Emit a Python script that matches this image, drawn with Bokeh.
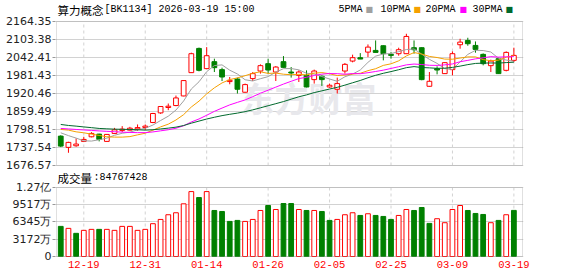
from bokeh.plotting import figure
from bokeh.models import FixedTicker, Label, ColumnDataSource, Range1d, BoxAnnotation
from bokeh.embed import file_html
from bokeh.resources import INLINE

# ---------------- data ----------------
dates = ["12-16", "12-17", "12-18", "12-19", "12-22", "12-23", "12-24", "12-25", "12-26", "12-29",
         "12-30", "12-31", "01-05", "01-06", "01-07", "01-08", "01-09", "01-12", "01-13", "01-14",
         "01-15", "01-16", "01-19", "01-20", "01-21", "01-22", "01-23", "01-26", "01-27", "01-28",
         "01-29", "01-30", "02-02", "02-03", "02-04", "02-05", "02-06", "02-09", "02-10", "02-11",
         "02-12", "02-13", "02-24", "02-25", "02-26", "02-27", "03-02", "03-03", "03-04", "03-05",
         "03-06", "03-09", "03-10", "03-11", "03-12", "03-13", "03-16", "03-17", "03-18", "03-19"]

opens = [1776.1, 1738.0, 1743.4, 1758.2, 1773.8, 1782.9, 1758.2, 1785.2, 1795.4, 1796.3,
         1800.5, 1805.5, 1822.3, 1854.8, 1873.0, 1879.7, 1912.2, 1991.1, 2073.2, 2004.7,
         2028.3, 2001.3, 1960.8, 1969.6, 1924.7, 1970.9, 1996.6, 2021.5, 1993.2, 2028.3,
         1993.2, 1982.0, 1982.0, 1967.5, 1978.7, 1942.6, 1934.8, 1996.6, 2030.3, 2041.8,
         2060.7, 2066.4, 2082.3, 2053.0, 2055.3, 2055.3, 2075.6, 2075.6, 1944.9, 2004.7,
         1987.8, 2001.3, 2085.7, 2100.2, 2083.3, 2053.0, 2014.8, 2038.4, 1998.9, 2032.7]
highs = [1779.0, 1757.0, 1768.4, 1773.8, 1789.6, 1784.0, 1783.0, 1804.0, 1809.9, 1807.5,
         1815.6, 1815.6, 1854.8, 1877.5, 1886.5, 1913.5, 1965.5, 2058.7, 2076.0, 2077.6,
         2038.4, 2008.0, 1976.3, 1974.3, 1954.0, 1993.2, 2019.2, 2038.4, 2013.4, 2047.2,
         2010.1, 1998.9, 1998.9, 2001.3, 1982.0, 1954.0, 1974.3, 2023.8, 2052.0, 2057.3,
         2086.7, 2100.2, 2083.5, 2060.7, 2075.6, 2122.8, 2100.2, 2077.0, 1993.2, 2012.4,
         2026.0, 2063.1, 2105.9, 2109.3, 2096.8, 2056.3, 2035.0, 2041.8, 2063.1, 2075.6]
lows = [1739.0, 1719.7, 1740.0, 1755.9, 1772.0, 1758.2, 1757.5, 1784.0, 1789.6, 1795.0,
        1794.0, 1796.3, 1820.0, 1851.4, 1863.9, 1877.4, 1911.0, 1990.0, 1995.5, 2003.0,
        1993.2, 1962.8, 1951.7, 1920.3, 1923.5, 1962.8, 1987.8, 1987.8, 1962.8, 2008.0,
        1974.3, 1959.4, 1941.0, 1954.0, 1946.0, 1940.0, 1920.3, 1987.8, 2026.0, 2037.1,
        2043.8, 2059.7, 2032.7, 2038.4, 2048.5, 2054.0, 2055.3, 1965.2, 1943.5, 1985.4,
        1986.5, 1982.0, 2072.2, 2082.3, 2058.7, 2015.8, 1993.2, 1987.8, 1995.5, 2027.0]
closes = [1742.3, 1754.8, 1749.1, 1764.9, 1785.2, 1765.0, 1781.8, 1797.4, 1799.8, 1803.0,
          1805.0, 1809.9, 1852.7, 1876.4, 1877.4, 1905.4, 1964.2, 2055.3, 1998.9, 2048.5,
          2008.0, 1976.3, 1965.2, 1934.8, 1950.6, 1987.8, 2014.8, 2000.0, 2010.1, 2009.0,
          1989.8, 1993.2, 1942.5, 1996.6, 1967.5, 1948.3, 1954.0, 2019.2, 2041.8, 2037.1,
          2077.6, 2059.7, 2055.3, 2049.6, 2068.8, 2113.7, 2068.8, 1967.5, 1961.8, 2000.0,
          2024.9, 2055.3, 2094.5, 2089.1, 2069.8, 2021.5, 2030.3, 1987.8, 2059.7, 2049.6]
prev_close = 1776.1

# volume, unit: 万 (10,000 shares)
volumes = [5539, 5173, 4259, 4808, 4990, 4990, 4990, 4808, 5539, 5539,
           4808, 4990, 6032, 6818, 7678, 8043, 9688, 11937, 10840, 11937,
           8464, 8281, 6453, 6636, 6453, 6818, 8464, 9378, 8646, 9743,
           9743, 8646, 8464, 8464, 8281, 6636, 6818, 7678, 8043, 7550,
           7860, 7550, 7367, 6818, 7550, 8646, 8464, 9012, 6087, 6946,
           6215, 8646, 9378, 8464, 7915, 7732, 6215, 6636, 7678, 8476.7428]

ma5 = [1787.3, 1777.8, 1769.4, 1760.2, 1759.3, 1763.8, 1769.2, 1778.9, 1785.8, 1789.6,
       1797.0, 1802.6, 1813.6, 1829.0, 1843.6, 1864.4, 1895.2, 1935.7, 1960.2, 1994.5,
       2015.0, 2017.4, 1999.4, 1986.6, 1967.0, 1962.9, 1970.6, 1977.6, 1992.7, 2004.6,
       2005.0, 2000.6, 1989.1, 1986.4, 1977.9, 1969.6, 1961.8, 1977.1, 1986.2, 2000.1,
       2025.9, 2047.1, 2054.3, 2055.9, 2062.2, 2069.4, 2071.2, 2053.7, 2036.1, 2022.4,
       2004.6, 2001.9, 2027.3, 2052.8, 2066.7, 2066.0, 2061.0, 2039.7, 2033.8, 2029.8]
ma10 = [1798.7, 1796.4, 1790.6, 1787.3, 1782.9, 1778.5, 1773.8, 1772.7, 1772.7, 1774.4,
        1780.4, 1785.9, 1796.3, 1807.4, 1816.6, 1830.7, 1848.9, 1874.7, 1894.6, 1919.1,
        1939.7, 1956.3, 1967.6, 1973.4, 1980.7, 1989.0, 1994.0, 1988.5, 1989.6, 1985.8,
        1984.0, 1985.6, 1983.4, 1989.6, 1991.2, 1987.3, 1981.2, 1983.1, 1986.3, 1989.0,
        1997.8, 2004.4, 2015.7, 2021.0, 2031.1, 2047.7, 2059.2, 2054.0, 2046.0, 2042.3,
        2037.0, 2036.6, 2040.5, 2044.4, 2044.5, 2035.3, 2031.5, 2033.5, 2043.3, 2048.3]
ma20 = [1802.1, 1800.4, 1798.7, 1797.0, 1795.4, 1793.7, 1792.3, 1791.0, 1789.6, 1788.6,
        1787.9, 1787.9, 1790.3, 1794.0, 1797.7, 1802.8, 1811.2, 1824.0, 1834.2, 1846.7,
        1860.0, 1871.1, 1881.9, 1890.4, 1898.7, 1909.8, 1921.5, 1931.6, 1942.1, 1952.4,
        1961.8, 1971.0, 1975.5, 1981.5, 1986.0, 1988.1, 1987.6, 1985.8, 1988.0, 1987.4,
        1990.9, 1995.0, 1999.5, 2005.3, 2011.2, 2017.5, 2020.2, 2018.6, 2016.1, 2015.6,
        2017.4, 2020.5, 2028.1, 2032.7, 2037.8, 2041.5, 2045.3, 2043.7, 2044.6, 2045.3]
ma30 = [1815.6, 1812.2, 1809.9, 1807.2, 1804.8, 1802.1, 1800.8, 1799.7, 1799.1, 1798.7,
        1797.7, 1796.4, 1797.7, 1800.4, 1803.1, 1806.5, 1812.0, 1820.0, 1827.0, 1834.0,
        1840.0, 1845.5, 1850.0, 1854.0, 1859.0, 1865.0, 1872.0, 1879.0, 1886.0, 1893.1,
        1901.3, 1909.3, 1915.7, 1923.5, 1929.5, 1935.6, 1941.4, 1948.8, 1956.8, 1964.6,
        1973.8, 1982.1, 1988.9, 1994.7, 2001.0, 2008.0, 2011.5, 2008.5, 2007.3, 2005.7,
        2006.2, 2008.9, 2013.2, 2018.3, 2022.3, 2023.4, 2023.9, 2023.5, 2025.2, 2026.5]

price_ticks = [1676.57, 1737.54, 1798.51, 1859.49, 1920.46, 1981.43, 2042.41, 2103.38, 2164.35]
vol_ticks = [0, 3172, 6345, 9517, 12689]
vol_tick_labels = ["0", "3172万", "6345万", "9517万", "1.27亿"]
date_labels = ["12-19", "12-31", "01-14", "01-26", "02-05", "02-25", "03-09", "03-19"]

title_name = "算力概念"
title_rest = "[BK1134] 2026-03-19 15:00"
ma_names = ["5PMA", "10PMA", "20PMA", "30PMA"]
vol_title = "成交量"
watermark = "东方财富"

# ---------------- layout / styles ----------------
RED = "#ff0000"
GREEN = "#008000"
MA_COLORS = ["#a0a0a0", "#f5a000", "#ff00ff", "#00692d"]
GRID = "#d2d2d2"
BORDER = "#999999"
W, H = 578, 276
FRAME_L, FRAME_R = 55, 523          # frame in page pixels
FRAME_T, FRAME_B = 0, 257
BOX_L, BOX_R = 56, 522               # panel boxes
PRICE_T, PRICE_B = 21, 165
VOL_T, VOL_B = 187, 256
SLOT0, SLOT = 60.26, 7.68            # x pixel of first candle, spacing

# x range (index units) from pixel layout
x_lo = (FRAME_L - SLOT0) / SLOT
x_hi = (FRAME_R - SLOT0) / SLOT
box_x0 = (BOX_L - SLOT0) / SLOT
box_x1 = (BOX_R - SLOT0) / SLOT

# price range spanning the whole frame
kp = (price_ticks[-1] - price_ticks[0]) / (PRICE_B - PRICE_T)
py1 = price_ticks[-1] + (PRICE_T - FRAME_T) * kp
py0 = price_ticks[0] - (FRAME_B - PRICE_B) * kp
# volume range spanning the whole frame
kv = vol_ticks[-1] / (VOL_B - VOL_T)
vy1 = vol_ticks[-1] + (VOL_T - FRAME_T) * kv
vy0 = 0 - (FRAME_B - VOL_B) * kv


def vol_to_price(v):
    return py0 + (v - vy0) / (vy1 - vy0) * (py1 - py0)


x = list(range(len(dates)))
date_idx = [dates.index(d) for d in date_labels]

up = [c >= o for o, c in zip(opens, closes)]
src = ColumnDataSource(dict(
    x=x, high=highs, low=lows,
    top=[max(o, c) for o, c in zip(opens, closes)],
    bottom=[min(o, c) for o, c in zip(opens, closes)],
    line=[RED if u else GREEN for u in up],
    fill=["white" if u else GREEN for u in up],
))

prevs = [prev_close] + closes[:-1]
vup = [c >= p for c, p in zip(closes, prevs)]
vsrc = ColumnDataSource(dict(
    x=x, vol=volumes,
    line=[RED if u else GREEN for u in vup],
    fill=["white" if u else GREEN for u in vup],
))

p = figure(width=W, height=H, x_range=Range1d(x_lo, x_hi), y_range=Range1d(py0, py1),
           output_backend="svg", toolbar_location=None, title=None,
           min_border_left=FRAME_L, min_border_right=W - FRAME_R,
           min_border_top=FRAME_T, min_border_bottom=H - FRAME_B)
p.extra_y_ranges = {"vol": Range1d(vy0, vy1)}
p.background_fill_color = "white"
p.border_fill_color = "white"
p.outline_line_color = None

# left axis: price ticks + volume ticks (mapped to the price scale)
vol_pos = [vol_to_price(v) for v in vol_ticks]
all_ticks = price_ticks + vol_pos
overrides = {t: "%.2f" % t for t in price_ticks}
overrides.update({vp: s for vp, s in zip(vol_pos, vol_tick_labels)})
p.yaxis.ticker = FixedTicker(ticks=all_ticks)
p.yaxis.major_label_overrides = overrides
p.yaxis.axis_line_color = None
p.yaxis.major_tick_line_color = BORDER
p.yaxis.major_tick_out = 3
p.yaxis.major_tick_in = 0
p.yaxis.minor_tick_line_color = None
p.yaxis.major_label_standoff = 1
p.yaxis.major_label_text_font = "DejaVu Sans"
p.yaxis.major_label_text_font_size = "11px"
p.yaxis.major_label_text_color = "#222222"
p.ygrid.ticker = FixedTicker(ticks=all_ticks)
p.ygrid.grid_line_color = GRID

# bottom axis: dates
p.xaxis.ticker = FixedTicker(ticks=date_idx)
p.xaxis.major_label_overrides = {i: d for i, d in zip(date_idx, date_labels)}
p.xaxis.axis_line_color = None
p.xaxis.major_tick_line_color = None
p.xaxis.minor_tick_line_color = None
p.xaxis.major_tick_out = 0
p.xaxis.major_label_standoff = 3
p.xaxis.major_label_text_color = RED
p.xaxis.major_label_text_font = "Liberation Mono"
p.xaxis.major_label_text_font_size = "10.5px"
p.xgrid.grid_line_color = None

# vertical dashed grid lines inside each panel
n = len(date_idx)
p.segment(x0=date_idx, y0=[price_ticks[0]] * n, x1=date_idx, y1=[price_ticks[-1]] * n,
          line_color=GRID, line_dash="3 3", line_width=1, level="underlay")
p.segment(x0=date_idx, y0=[0] * n, x1=date_idx, y1=[vol_ticks[-1]] * n,
          line_color=GRID, line_dash="3 3", line_width=1, level="underlay", y_range_name="vol")

# watermark
p.add_layout(Label(x=185, y=160, x_units="screen", y_units="screen", text=watermark,
                   text_font="Noto Sans CJK SC", text_font_size="34px", text_font_style="bold",
                   text_color="#e8e8ec", text_baseline="middle", level="underlay"))

# candles
p.segment(x0="x", y0="low", x1="x", y1="high", line_color="line", line_width=1, source=src)
p.vbar(x="x", width=0.62, top="top", bottom="bottom", fill_color="fill",
       line_color="line", line_width=1, source=src)

# moving averages
for ma, col in zip([ma5, ma10, ma20, ma30], MA_COLORS):
    p.line(x, ma, line_color=col, line_width=1)

# volume bars
p.vbar(x="x", width=0.62, top="vol", bottom=0, fill_color="fill",
       line_color="line", line_width=1, source=vsrc, y_range_name="vol")

# panel borders
p.add_layout(BoxAnnotation(left=box_x0, right=box_x1, bottom=price_ticks[0], top=price_ticks[-1],
                           fill_alpha=0, line_color=BORDER, line_width=1))
p.add_layout(BoxAnnotation(left=box_x0, right=box_x1, bottom=0, top=vol_ticks[-1],
                           fill_alpha=0, line_color=BORDER, line_width=1, y_range_name="vol"))


def header(xs, ys, text, font, size, color="#000000"):
    p.add_layout(Label(x=xs, y=ys, x_units="screen", y_units="screen", text=text,
                       text_font=font, text_font_size=size, text_color=color,
                       text_baseline="middle"))


# header of price panel (screen units from frame bottom-left)
hy = FRAME_B - 9
header(2, hy, title_name, "Noto Sans CJK SC", "11.5px")
header(49, hy, title_rest, "Liberation Mono", "10px")
leg_x = [283, 325, 370, 417]
sq_x = [310, 358, 404, 450]
for name, col, lx, sx in zip(ma_names, MA_COLORS, leg_x, sq_x):
    header(lx, hy, name, "Liberation Mono", "10px")
    header(sx, hy, "■", "DejaVu Sans", "8px", col)

# header of volume panel
vy = FRAME_B - 177
last_vol = str(int(round(volumes[-1] * 10000)))
header(2, vy, vol_title, "Noto Sans CJK SC", "11.5px")
header(38, vy, ":" + last_vol, "Liberation Mono", "10px")

open("out.html", "w").write(file_html(p, INLINE))
